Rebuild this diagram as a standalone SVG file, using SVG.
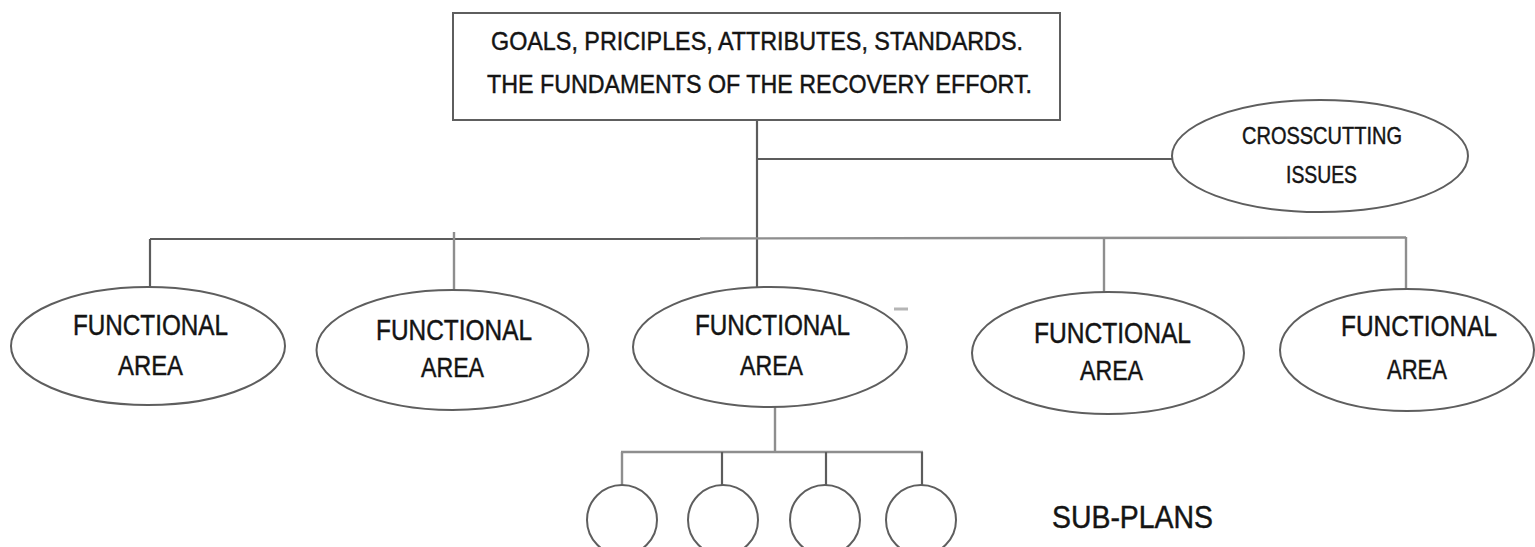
<svg xmlns="http://www.w3.org/2000/svg" width="1535" height="547" viewBox="0 0 1535 547">
<style>
.ln{stroke:#5c5c5c;stroke-width:2.2;fill:none}
.lt{stroke:#8e8e8e;stroke-width:2.4;fill:none}
.sh{fill:#fff;stroke:#5e5e5e;stroke-width:2}
.t{font-family:"Liberation Sans Narrow","Liberation Sans",Arial,sans-serif;fill:#141414;stroke:#141414;stroke-width:0.45}
</style>
<rect width="1535" height="547" fill="#fff"/>
<g id="connectors">
<line class="ln" x1="757" y1="121" x2="757" y2="288"/>
<line class="ln" x1="757" y1="159" x2="1172" y2="159"/>
<line class="ln" x1="150" y1="239" x2="700" y2="239"/>
<line class="lt" x1="700" y1="238.5" x2="1406" y2="237.5"/>
<line class="ln" x1="150" y1="239" x2="150" y2="287"/>
<line class="lt" x1="454" y1="232" x2="454" y2="290"/>
<line class="lt" x1="1104" y1="238" x2="1104" y2="292"/>
<line class="lt" x1="1406" y1="237" x2="1406" y2="288"/>
<line class="lt" x1="775" y1="407" x2="775" y2="452"/>
<line class="lt" x1="621" y1="452" x2="923" y2="452"/>
<line class="lt" x1="622" y1="452" x2="622" y2="485"/>
<line class="ln" x1="722" y1="452" x2="722" y2="485"/>
<line class="ln" x1="826" y1="452" x2="826" y2="485"/>
<line class="ln" x1="922" y1="452" x2="922" y2="485"/>
</g>
<g id="goals">
<rect class="sh" x="453" y="13" width="607" height="107"/>
<text class="t" x="491" y="50" font-size="26" textLength="532" lengthAdjust="spacingAndGlyphs">GOALS, PRICIPLES, ATTRIBUTES, STANDARDS.</text>
<text class="t" x="487" y="93" font-size="26" textLength="545" lengthAdjust="spacingAndGlyphs">THE FUNDAMENTS OF THE RECOVERY EFFORT.</text>
</g>
<g id="crosscutting">
<ellipse class="sh" cx="1320" cy="156" rx="148" ry="56"/>
<text class="t" x="1242" y="144" font-size="24" textLength="160" lengthAdjust="spacingAndGlyphs">CROSSCUTTING</text>
<text class="t" x="1286" y="183" font-size="24" textLength="71" lengthAdjust="spacingAndGlyphs">ISSUES</text>
</g>
<g id="fa1">
<ellipse class="sh" cx="148" cy="346" rx="137" ry="59"/>
<text class="t" x="73" y="335" font-size="29" textLength="155" lengthAdjust="spacingAndGlyphs">FUNCTIONAL</text>
<text class="t" x="118" y="375" font-size="28" textLength="65" lengthAdjust="spacingAndGlyphs">AREA</text>
</g>
<g id="fa2">
<ellipse class="sh" cx="452.5" cy="350" rx="136" ry="60"/>
<text class="t" x="376" y="340" font-size="29" textLength="156" lengthAdjust="spacingAndGlyphs">FUNCTIONAL</text>
<text class="t" x="421" y="377" font-size="28" textLength="63" lengthAdjust="spacingAndGlyphs">AREA</text>
</g>
<g id="fa3">
<ellipse class="sh" cx="770" cy="347" rx="137" ry="60"/>
<text class="t" x="695" y="335" font-size="29" textLength="155" lengthAdjust="spacingAndGlyphs">FUNCTIONAL</text>
<text class="t" x="740" y="375" font-size="28" textLength="63" lengthAdjust="spacingAndGlyphs">AREA</text>
</g>
<line x1="894" y1="309" x2="908" y2="309" stroke="#b5b5b5" stroke-width="3"/>
<g id="fa4">
<ellipse class="sh" cx="1108" cy="353" rx="136" ry="61"/>
<text class="t" x="1034" y="343" font-size="29" textLength="157" lengthAdjust="spacingAndGlyphs">FUNCTIONAL</text>
<text class="t" x="1080" y="380" font-size="28" textLength="63" lengthAdjust="spacingAndGlyphs">AREA</text>
</g>
<g id="fa5">
<ellipse class="sh" cx="1407" cy="350" rx="127" ry="61"/>
<text class="t" x="1341" y="336" font-size="29" textLength="156" lengthAdjust="spacingAndGlyphs">FUNCTIONAL</text>
<text class="t" x="1387" y="379" font-size="28" textLength="60" lengthAdjust="spacingAndGlyphs">AREA</text>
</g>
<g id="sub1"><circle class="sh" cx="622" cy="520" r="35"/></g>
<g id="sub2"><circle class="sh" cx="723" cy="520" r="35"/></g>
<g id="sub3"><circle class="sh" cx="825" cy="520" r="35"/></g>
<g id="sub4"><circle class="sh" cx="921" cy="520" r="35"/></g>
<g id="subplans-label">
<text class="t" x="1052" y="528" font-size="32" textLength="161" lengthAdjust="spacingAndGlyphs">SUB-PLANS</text>
</g>
</svg>
